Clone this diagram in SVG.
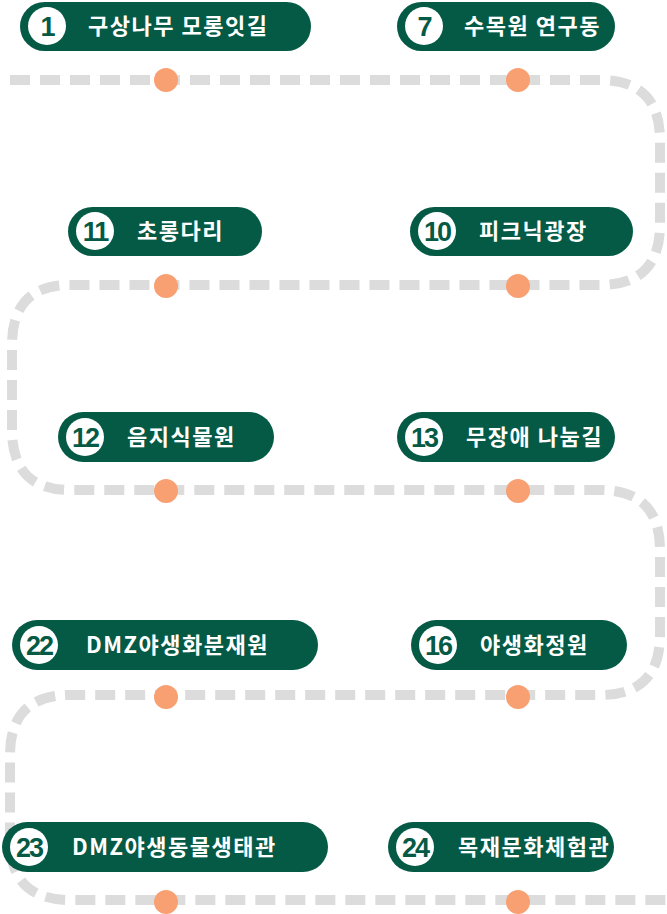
<svg xmlns="http://www.w3.org/2000/svg" width="667" height="914" viewBox="0 0 667 914">
<style>
.p{fill:#055a45}
.c{fill:#fff}
.n{fill:#055a45;font:bold 27px "Liberation Sans Narrow","Liberation Sans",sans-serif;text-anchor:middle;letter-spacing:-2px}
.t{fill:#fff;font:bold 22px "Noto Sans CJK KR",sans-serif;letter-spacing:1.5px}
.d{fill:#f9a072}
</style>
<g id="connectors">
<path d="M10 80 H600 Q660 80 660 140 V225 Q660 285 600 285 H70 Q12 285 12 345 V430 Q12 490 70 490 H600 Q660 490 660 550 V635 Q660 695 600 695 H70 Q10 695 10 755 V840 Q10 900 70 900 H667" fill="none" stroke="#dcdcdc" stroke-width="10" stroke-dasharray="20 10"/>
<g class="d"><circle cx="166" cy="80" r="12"/><circle cx="518" cy="80" r="12"/><circle cx="166" cy="286" r="12"/><circle cx="518" cy="286" r="12"/><circle cx="166" cy="491" r="12"/><circle cx="518" cy="491" r="12"/><circle cx="166" cy="697" r="12"/><circle cx="518" cy="697" r="12"/><circle cx="166" cy="902" r="12"/><circle cx="518" cy="902" r="12"/></g>
</g>
<g id="n1"><rect class="p" x="20" y="2" width="291" height="49" rx="24.5"/><circle class="c" cx="47" cy="26" r="19"/><text class="n" x="47" y="36">1</text><text class="t" x="88" y="34">구상나무 모롱잇길</text></g>
<g id="n7"><rect class="p" x="397" y="2" width="218" height="49" rx="24.5"/><circle class="c" cx="424" cy="26" r="19"/><text class="n" x="424" y="36">7</text><text class="t" x="464" y="34">수목원 연구동</text></g>
<g id="n11"><rect class="p" x="68" y="207" width="194" height="49" rx="24.5"/><circle class="c" cx="95" cy="231" r="19"/><text class="n" x="95" y="241">11</text><text class="t" x="137" y="239">초롱다리</text></g>
<g id="n10"><rect class="p" x="410" y="207" width="223" height="49" rx="24.5"/><circle class="c" cx="437" cy="231" r="19"/><text class="n" x="437" y="241">10</text><text class="t" x="479" y="239">피크닉광장</text></g>
<g id="n12"><rect class="p" x="58" y="412" width="216" height="50" rx="25"/><circle class="c" cx="85" cy="437" r="19"/><text class="n" x="85" y="447">12</text><text class="t" x="127" y="445">음지식물원</text></g>
<g id="n13"><rect class="p" x="397" y="412" width="218" height="50" rx="25"/><circle class="c" cx="424" cy="437" r="19"/><text class="n" x="424" y="447">13</text><text class="t" x="466" y="445">무장애 나눔길</text></g>
<g id="n22"><rect class="p" x="12" y="620" width="306" height="50" rx="25"/><circle class="c" cx="39" cy="645" r="19"/><text class="n" x="39" y="655">22</text><text class="t" x="86" y="653">DMZ야생화분재원</text></g>
<g id="n16"><rect class="p" x="411" y="620" width="216" height="50" rx="25"/><circle class="c" cx="438" cy="645" r="19"/><text class="n" x="438" y="655">16</text><text class="t" x="480" y="653">야생화정원</text></g>
<g id="n23"><rect class="p" x="2" y="822" width="326" height="50" rx="25"/><circle class="c" cx="29" cy="847" r="19"/><text class="n" x="29" y="857">23</text><text class="t" x="72" y="855">DMZ야생동물생태관</text></g>
<g id="n24"><rect class="p" x="388" y="822" width="226" height="50" rx="25"/><circle class="c" cx="415" cy="847" r="19"/><text class="n" x="415" y="857">24</text><text class="t" x="458" y="855">목재문화체험관</text></g>
</svg>
